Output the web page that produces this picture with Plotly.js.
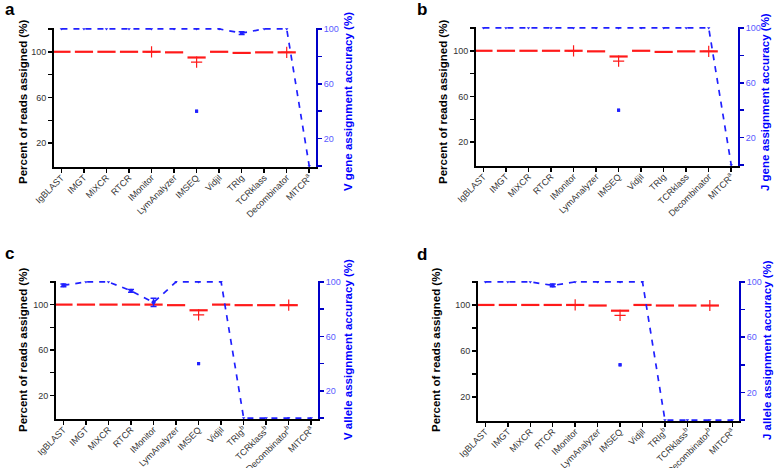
<!DOCTYPE html>
<html>
<head>
<meta charset="utf-8">
<script src="https://cdn.plot.ly/plotly-3.0.1.min.js"></script>
<style>
  html, body { margin: 0; padding: 0; background: #fff; }
  #chart { width: 775px; height: 468px; }
</style>
</head>
<body>
<div id="chart"></div>
<script>
// tools on the x axis (same order in every panel)
var tools = ["IgBLAST", "IMGT", "MiXCR", "RTCR", "IMonitor", "LymAnalyzer", "IMSEQ",
  "Vidjil", "TRIg", "TCRklass", "Decombinator", "MITCR"];
var labelsTop = ["IgBLAST", "IMGT", "MiXCR", "RTCR", "IMonitor", "LymAnalyzer", "IMSEQ",
  "Vidjil", "TRIg", "TCRklass", "Decombinator", "MITCR<sup>a</sup>"];
var labelsBottom = ["IgBLAST", "IMGT", "MiXCR", "RTCR", "IMonitor", "LymAnalyzer", "IMSEQ",
  "Vidjil", "TRIg<sup>b</sup>", "TCRklass<sup>b</sup>", "Decombinator<sup>b</sup>", "MITCR<sup>a</sup>"];

// percent of reads assigned (mean per tool, MITCR has none)
var readsA = [100, 100, 100, 100, 100, 99.5, 95, 100, 99, 99.5, 99.5];
var readsB = [100, 100, 100, 100, 100, 99.5, 95, 100, 99, 99.5, 99.5];
var readsC = [100, 100, 100, 100, 100, 99.5, 95, 100, 99.5, 99.5, 99.5];
var readsD = [100, 100, 100, 100, 100, 99.5, 95, 100, 99.5, 99.5, 99.5];

// single read points drawn as "+"
var readPtsToolsA = ["IMonitor", "IMSEQ", "Decombinator"];
var readPtsA = [100, 91, 99.5];
var readPtsToolsB = ["IMonitor", "IMSEQ", "Decombinator"];
var readPtsB = [100, 91, 99.5];
var readPtsToolsC = ["IMSEQ", "Decombinator"];
var readPtsC = [91, 99.5];
var readPtsToolsD = ["IMonitor", "IMSEQ", "Decombinator"];
var readPtsD = [100, 91, 99.5];

// assignment accuracy (%) and its error
var accA = [100, 100, 100, 100, 100, 100, 100, 100, 97, 100, 100, 0];
var errA = [0, 0, 0, 0, 0, 0, 0, 0, 1, 0, 0, 0];
var accB = [100, 100, 100, 100, 100, 100, 100, 100, 100, 100, 100, 0];
var errB = [0, 0, 0, 0, 0, 0, 0, 0, 0, 0, 0, 0];
var accC = [97.5, 100, 100, 93.5, 85, 100, 100, 100, 0, 0, 0, 0];
var errC = [1, 0, 0, 1, 3, 0, 0, 0, 0, 0, 0, 0];
var accD = [100, 100, 100, 97.5, 100, 100, 100, 100, 0, 0, 0, 0];
var errD = [0, 0, 0, 1, 0, 0, 0, 0, 0, 0, 0, 0];

// lone IMSEQ accuracy value
var accOutlierTool = "IMSEQ";
var accOutlier = 40;

var leftTitle = "Percent of reads assigned (%)";
var rightTitles = ["V gene assignment accuracy (%)", "J gene assignment accuracy (%)",
  "V allele assignment accuracy (%)", "J allele assignment accuracy (%)"];

var FONT = "Liberation Sans, Arial, sans-serif";
var RED = "#ff1a1a";
var BLUE = "#2020ff";

function idx(name) { return tools.indexOf(name); }

var panels = [
  { reads: readsA, ptsT: readPtsToolsA, pts: readPtsA, acc: accA, err: errA },
  { reads: readsB, ptsT: readPtsToolsB, pts: readPtsB, acc: accB, err: errB },
  { reads: readsC, ptsT: readPtsToolsC, pts: readPtsC, acc: accC, err: errC },
  { reads: readsD, ptsT: readPtsToolsD, pts: readPtsD, acc: accD, err: errD }
];

var data = [];
panels.forEach(function (p, i) {
  var xa = i === 0 ? "x" : "x" + (i + 1);
  var yl = i === 0 ? "y" : "y" + (2 * i + 1);
  var yr = "y" + (2 * i + 2);
  var xs = p.acc.map(function (v, k) { return k; });
  // only the tools that have a spread get an error bar
  var withErr = xs.filter(function (k) { return p.err[k] > 0; });

  data.push({
    x: p.reads.map(function (v, k) { return k; }),
    y: p.reads, xaxis: xa, yaxis: yl, mode: "markers", type: "scatter",
    marker: { symbol: "line-ew", size: 13, line: { color: RED, width: 2.2 } }
  });
  data.push({
    x: p.ptsT.map(idx), y: p.pts, xaxis: xa, yaxis: yl, mode: "markers", type: "scatter",
    marker: { symbol: "cross-thin", size: 8, line: { color: RED, width: 1.2 } }
  });
  data.push({
    x: xs, y: p.acc, xaxis: xa, yaxis: yr, mode: "lines+markers", type: "scatter",
    line: { color: BLUE, width: 1.7, dash: "6px,6px" },
    marker: { color: BLUE, size: 3, symbol: "triangle-down" }
  });
  data.push({
    x: withErr, y: withErr.map(function (k) { return p.acc[k]; }),
    xaxis: xa, yaxis: yr, mode: "markers", type: "scatter",
    marker: { color: BLUE, size: 4 },
    error_y: { type: "data", array: withErr.map(function (k) { return p.err[k]; }),
      color: BLUE, thickness: 1.5, width: 3 }
  });
  data.push({
    x: [idx(accOutlierTool)], y: [accOutlier], xaxis: xa, yaxis: yr, mode: "markers",
    type: "scatter", marker: { color: BLUE, size: 3, symbol: "square" },
    error_y: { type: "data", array: [1.2], color: BLUE, thickness: 3, width: 0 }
  });
});

// plot areas in pixels: [left, right, top, bottom]
var boxes = [[54, 316, 28, 167], [476, 738, 27, 166], [56, 318, 281, 419], [478, 739, 281, 421]];
// axis title centres in pixels: [left x, right x, y]
var titlePos = [[23, 348, 102], [443, 765, 102], [23, 348, 350], [436, 767, 350]];
var W = 775, H = 468;

var layout = {
  width: W, height: H,
  margin: { l: 0, r: 0, t: 0, b: 0 },
  paper_bgcolor: "#fff", plot_bgcolor: "rgba(0,0,0,0)",
  showlegend: false,
  font: { family: FONT, size: 9, color: "#333" },
  annotations: []
};

boxes.forEach(function (b, i) {
  var xk = i === 0 ? "xaxis" : "xaxis" + (i + 1);
  var ylk = i === 0 ? "yaxis" : "yaxis" + (2 * i + 1);
  var yrk = "yaxis" + (2 * i + 2);
  var xa = i === 0 ? "x" : "x" + (i + 1);
  var yl = i === 0 ? "y" : "y" + (2 * i + 1);
  layout[xk] = {
    domain: [b[0] / W, b[1] / W], anchor: yl,
    range: [-0.33, 11.3], tickmode: "array",
    tickvals: tools.map(function (t, k) { return k; }),
    ticktext: i < 2 ? labelsTop : labelsBottom,
    tickangle: -45, tickfont: { size: 9, color: "#333" }, ticklabelstandoff: -4,
    showgrid: false, zeroline: false, showline: true, linecolor: "#000", linewidth: 2,
    ticks: "outside", ticklen: 4, tickwidth: 1.5, tickcolor: "#000", automargin: false
  };
  layout[ylk] = {
    domain: [1 - b[3] / H, 1 - b[2] / H], anchor: xa,
    range: [-0.8, 120.8], tickmode: "array",
    tickvals: [20, 40, 60, 80, 100, 120], ticktext: ["20", "", "60", "", "100", ""],
    tickfont: { size: 9, color: "#333" },
    showgrid: false, zeroline: false, showline: true, linecolor: "#000", linewidth: 2,
    ticks: "outside", ticklen: 4, tickwidth: 1.5, tickcolor: "#000", automargin: false
  };
  layout[yrk] = {
    overlaying: yl, side: "right", anchor: xa,
    range: [-0.7, 100.7], tickmode: "array",
    tickvals: [0, 20, 40, 60, 80, 100], ticktext: ["", "20", "", "60", "", "100"],
    tickfont: { size: 9, color: "#5a5aff" },
    showgrid: false, zeroline: false, showline: true, linecolor: "#0000c8", linewidth: 2,
    ticks: "outside", ticklen: 4, tickwidth: 1.5, tickcolor: "#0000c8", automargin: false
  };

  var t = titlePos[i];
  layout.annotations.push({
    text: "<b>" + leftTitle + "</b>", xref: "paper", yref: "paper",
    x: t[0] / W, y: 1 - t[2] / H, xanchor: "center", yanchor: "middle",
    textangle: -90, showarrow: false, font: { family: FONT, size: 11.5, color: "#000" }
  });
  layout.annotations.push({
    text: "<b>" + rightTitles[i] + "</b>", xref: "paper", yref: "paper",
    x: t[1] / W, y: 1 - t[2] / H, xanchor: "center", yanchor: "middle",
    textangle: -90, showarrow: false, font: { family: FONT, size: 11.5, color: "#0000ff" }
  });
});

var panelLabels = [["a", 0.004, 0.979], ["b", 0.535, 0.979], ["c", 0.004, 0.459], ["d", 0.535, 0.457]];
panelLabels.forEach(function (l) {
  layout.annotations.push({
    text: "<b>" + l[0] + "</b>", xref: "paper", yref: "paper", x: l[1], y: l[2],
    xanchor: "left", yanchor: "middle", showarrow: false,
    font: { family: FONT, size: 17, color: "#000" }
  });
});

Plotly.newPlot("chart", data, layout, { displayModeBar: false, staticPlot: true });
</script>
</body>
</html>
